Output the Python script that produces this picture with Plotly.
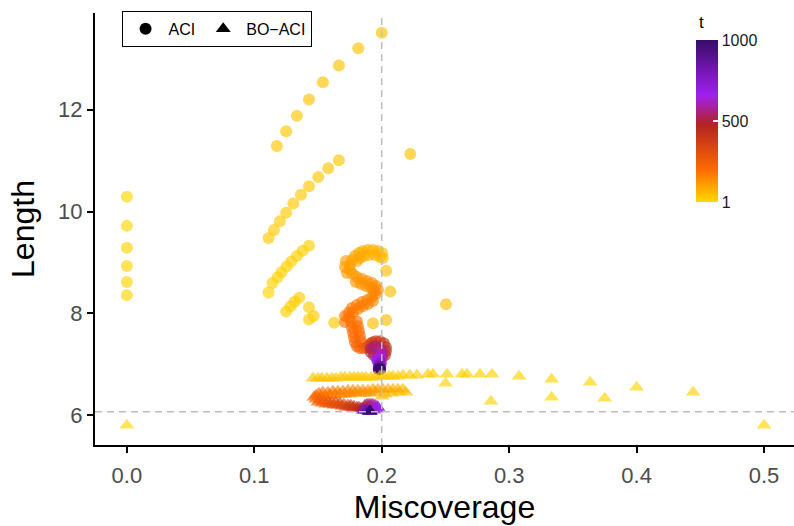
import plotly.graph_objects as go

# ---------------- data ----------------
# ACI: running miscoverage / running length, coloured by time step t
aci_miscov = [
    0.0, 0.0, 0.0, 0.0, 0.0, 0.0,
    0.1112, 0.1143, 0.1183, 0.1214, 0.1253, 0.1290, 0.1334, 0.1379, 0.1429,
    0.1250, 0.1285, 0.1316, 0.1353, 0.1429, 0.1466, 0.1429, 0.1627,
    0.1112, 0.1154, 0.1201, 0.1250, 0.1306, 0.1366, 0.1429, 0.1502, 0.1580, 0.1664,
    0.1177, 0.1250, 0.1334, 0.1429, 0.1538, 0.1664, 0.1816, 0.2000,
    0.2224, 0.2504, 0.2035, 0.2067, 0.2035, 0.1931,
    0.2009, 0.1986, 0.2002, 0.1970, 0.1947, 0.1931, 0.1900, 0.1892, 0.1860, 0.1852,
    0.1829, 0.1821, 0.1805, 0.1790, 0.1766, 0.1719, 0.1750, 0.1711, 0.1750, 0.1727,
    0.1774, 0.1805, 0.1797, 0.1845, 0.1837, 0.1884, 0.1876, 0.1923, 0.1915, 0.1954,
    0.1939, 0.1970, 0.1954, 0.1931, 0.1923, 0.1892, 0.1884, 0.1852, 0.1845, 0.1813,
    0.1805, 0.1774, 0.1766, 0.1711, 0.1743, 0.1711, 0.1743, 0.1805, 0.1758, 0.1813,
    0.1766, 0.1821, 0.1774, 0.1829, 0.1782, 0.1837, 0.1790, 0.1805, 0.1829, 0.1860,
    0.1884, 0.1900, 0.1915, 0.1931, 0.1954, 0.1986, 0.2017, 0.2033, 0.2033, 0.2025,
    0.2002, 0.1970, 0.1939, 0.1915, 0.1915, 0.1939, 0.1970, 0.1994, 0.2002, 0.1994,
    0.1978, 0.1962, 0.1970, 0.1986, 0.1994, 0.1986, 0.1978, 0.1978, 0.1986, 0.1978,
    0.1986, 0.1978, 0.1986, 0.1978, 0.1986,
]
aci_length = [
    10.29, 9.72, 9.29, 8.93, 8.62, 8.36,
    8.41, 8.60, 8.71, 8.81, 8.92, 9.02, 9.13, 9.23, 9.33,
    8.04, 8.14, 8.23, 8.31, 8.12, 7.95, 7.88, 7.82,
    9.48, 9.64, 9.81, 9.98, 10.16, 10.33, 10.50, 10.68, 10.85, 11.01,
    11.29, 11.58, 11.88, 12.20, 12.54, 12.87, 13.21, 13.51,
    11.13, 8.18, 8.84, 8.43, 7.87, 7.81,
    9.089, 9.108, 9.187, 9.226, 9.148, 9.246, 9.148, 9.246, 9.128, 9.226,
    9.089, 9.187, 9.030, 9.128, 9.049, 9.030, 8.951, 8.912, 8.853, 8.794,
    8.774, 8.715, 8.617, 8.676, 8.577, 8.636, 8.538, 8.597, 8.499, 8.538,
    8.440, 8.459, 8.380, 8.243, 8.321, 8.184, 8.262, 8.144, 8.223, 8.085,
    8.164, 8.026, 8.105, 7.948, 8.026, 7.830, 7.928, 7.849, 7.830, 7.751,
    7.731, 7.653, 7.633, 7.554, 7.535, 7.456, 7.436, 7.357, 7.318, 7.318,
    7.338, 7.377, 7.416, 7.436, 7.456, 7.456, 7.416, 7.338, 7.259, 7.180,
    7.141, 7.141, 7.180, 7.239, 7.318, 7.357, 7.338, 7.279, 7.220, 7.161,
    7.121, 7.102, 7.062, 7.043, 7.023, 7.003, 6.984, 6.964, 6.944, 6.925,
    6.925, 6.905, 6.905, 6.905, 6.905,
]
aci_t = [
    1, 2, 3, 4, 5, 6,
    7, 8, 9, 10, 11, 12, 13, 14, 15,
    16, 17, 18, 19, 20, 21, 22, 23,
    24, 25, 26, 27, 28, 29, 30, 31, 32, 33,
    34, 35, 36, 37, 38, 39, 40, 41,
    42, 43, 44, 45, 46, 47,
    50, 52, 55, 60, 63, 66, 69, 72, 75, 78,
    81, 84, 87, 90, 93, 99, 102, 105, 108, 111,
    114, 119, 121, 124, 126, 129, 131, 134, 136, 139,
    141, 144, 149, 151, 154, 156, 159, 161, 164, 166,
    169, 171, 174, 176, 179, 181, 184, 187, 190, 193,
    196, 199, 202, 205, 208, 211, 214, 222, 232, 245,
    270, 300, 330, 360, 380, 395, 410, 425, 440, 455,
    470, 485, 500, 515, 530, 545, 560, 580, 600, 620,
    640, 660, 680, 700, 720, 740, 760, 790, 820, 850,
    880, 910, 940, 970, 1000,
]

# BO-ACI
bo_miscov = [
    0.0, 0.5, 0.3333, 0.25, 0.4, 0.3333, 0.2857, 0.375, 0.4444, 0.3636, 0.3077,
    0.2865, 0.2771, 0.2669, 0.2630, 0.2512, 0.2402, 0.2363, 0.2276, 0.2221, 0.2166,
    0.2127, 0.2088, 0.2057, 0.2017, 0.1986, 0.1947, 0.1915, 0.1876, 0.1845, 0.1813,
    0.1782, 0.1750, 0.1711, 0.1680, 0.1641, 0.1609, 0.1570, 0.1531, 0.1499, 0.1460,
    0.2190, 0.2135, 0.2080, 0.2025, 0.2002,
    0.2166, 0.2127, 0.2088, 0.2049, 0.2009, 0.1970, 0.1947, 0.1931, 0.1907, 0.1892,
    0.1868, 0.1852, 0.1829, 0.1813, 0.1790, 0.1774, 0.1750, 0.1735, 0.1711, 0.1695,
    0.1672, 0.1656, 0.1633, 0.1617, 0.1593, 0.1578, 0.1554, 0.1538, 0.1523, 0.1507,
    0.1484, 0.1468,
    0.1484, 0.1499, 0.1515, 0.1531, 0.1546, 0.1562, 0.1578, 0.1593, 0.1609, 0.1625,
    0.1641, 0.1656, 0.1672, 0.1688, 0.1703, 0.1719, 0.1735, 0.1750, 0.1758, 0.1774,
    0.1782, 0.1805, 0.1821, 0.1837, 0.1852,
    0.1868, 0.1884, 0.1900, 0.1915, 0.1931, 0.1947, 0.1962, 0.1970, 0.1970, 0.1954,
    0.1939, 0.1915, 0.1892, 0.1868, 0.1852, 0.1868, 0.1884, 0.1900, 0.1907, 0.1907,
    0.1907, 0.1907, 0.1907,
]
bo_length = [
    5.803, 5.803, 6.354, 6.630, 6.551, 6.708, 6.275, 6.334, 6.452, 6.649, 6.767,
    6.807, 6.807, 6.807, 6.807, 6.807, 6.807, 6.807, 6.787, 6.787, 6.787,
    6.767, 6.767, 6.767, 6.767, 6.767, 6.748, 6.748, 6.748, 6.748, 6.748,
    6.748, 6.748, 6.748, 6.748, 6.728, 6.728, 6.728, 6.728, 6.728, 6.728,
    6.452, 6.452, 6.433, 6.413, 6.374,
    6.512, 6.512, 6.512, 6.512, 6.512, 6.512, 6.452, 6.512, 6.433, 6.492,
    6.433, 6.492, 6.433, 6.492, 6.433, 6.492, 6.413, 6.492, 6.413, 6.472,
    6.413, 6.472, 6.393, 6.472, 6.393, 6.452, 6.374, 6.452, 6.354, 6.433,
    6.393, 6.354,
    6.315, 6.256, 6.295, 6.236, 6.275, 6.216, 6.275, 6.216, 6.256, 6.197,
    6.256, 6.197, 6.236, 6.177, 6.216, 6.157, 6.197, 6.157, 6.197, 6.138,
    6.177, 6.157, 6.157, 6.138, 6.138,
    6.197, 6.216, 6.216, 6.216, 6.216, 6.197, 6.177, 6.157, 6.138, 6.118,
    6.098, 6.098, 6.098, 6.098, 6.098, 6.098, 6.098, 6.079, 6.079, 6.079,
    6.079, 6.079, 6.079,
]
bo_t = [
    1, 2, 3, 4, 5, 6, 7, 8, 9, 10, 11,
    12, 13, 14, 15, 16, 17, 18, 19, 20, 21,
    22, 23, 24, 25, 26, 27, 28, 29, 30, 31,
    32, 33, 34, 35, 36, 37, 38, 39, 40, 41,
    44, 46, 48, 50, 52,
    60, 68, 76, 84, 92, 100, 104, 108, 112, 116,
    120, 124, 128, 132, 136, 140, 144, 148, 152, 156,
    160, 164, 168, 172, 176, 180, 184, 188, 192, 196,
    204, 212,
    225, 232, 240, 248, 255, 262, 270, 278, 285, 292,
    300, 310, 320, 330, 340, 350, 360, 370, 380, 390,
    400, 420, 440, 460, 480,
    500, 520, 540, 560, 580, 600, 620, 640, 660, 680,
    700, 720, 740, 760, 780, 800, 830, 860, 890, 920,
    950, 980, 1000,
]

target_miscov = 0.2
target_length = 6.07
x_ticks = [0.0, 0.1, 0.2, 0.3, 0.4, 0.5]
y_ticks = [6, 8, 10, 12]
t_ticks = [1, 500, 1000]

# ---------------- figure ----------------
FONT = "Liberation Sans"
cscale = [
    [0.0, "#FFD700"],
    [0.2, "#FF6A00"],
    [0.48, "#B22222"],
    [0.66, "#A020F0"],
    [1.0, "#380C68"],
]

fig = go.Figure()

fig.add_trace(go.Scatter(
    x=aci_miscov, y=aci_length, mode="markers", showlegend=False,
    marker=dict(symbol="circle", size=12, color=aci_t, coloraxis="coloraxis",
                opacity=0.65, line=dict(width=0)),
))
fig.add_trace(go.Scatter(
    x=bo_miscov, y=bo_length, mode="markers", showlegend=False,
    marker=dict(symbol="triangle-up", size=13, color=bo_t, coloraxis="coloraxis",
                opacity=0.65, line=dict(width=0)),
))
# legend keys
fig.add_trace(go.Scatter(x=[None], y=[None], mode="markers", name="ACI",
                         marker=dict(symbol="circle", size=12, color="black")))
fig.add_trace(go.Scatter(x=[None], y=[None], mode="markers", name="BO\u2212ACI",
                         marker=dict(symbol="triangle-up", size=13, color="black")))

fig.add_shape(type="line", xref="x", yref="paper", x0=target_miscov, x1=target_miscov,
              y0=0, y1=1, layer="above",
              line=dict(color="#BEBEBE", width=1.5, dash="7px,5px"))
fig.add_shape(type="line", xref="paper", yref="y", x0=0, x1=1,
              y0=target_length, y1=target_length, layer="above",
              line=dict(color="#BEBEBE", width=1.5, dash="7px,5px"))

# colour-bar title placed like the ggplot legend title
fig.add_annotation(text="t", xref="paper", yref="paper", x=0.861, y=0.979,
                   xanchor="left", yanchor="middle", showarrow=False,
                   font=dict(size=17, color="black"))

fig.update_layout(
    width=794, height=526,
    margin=dict(l=95, r=0, t=13, b=81),
    paper_bgcolor="white", plot_bgcolor="white",
    font=dict(family=FONT, color="black"),
    coloraxis=dict(
        colorscale=cscale, cmin=1, cmax=1000,
        colorbar=dict(
            tickvals=t_ticks, ticktext=[str(v) for v in t_ticks],
            tickfont=dict(size=16, color="#1A1A1A"),
            thickness=22, len=162, lenmode="pixels",
            x=0.86, xanchor="left", y=0.75, yanchor="middle",
            xpad=0, ypad=0, outlinewidth=0,
            ticks="inside", ticklen=5, tickcolor="white", tickwidth=1.5,
        ),
    ),
    legend=dict(
        orientation="h", x=0.038, y=1.005, xanchor="left", yanchor="top",
        bordercolor="black", borderwidth=1, bgcolor="white",
        font=dict(size=16, color="black"), itemwidth=36,
    ),
    xaxis=dict(
        range=[-0.025, 0.5235], tickvals=x_ticks, tickformat=".1f",
        showgrid=False, zeroline=False,
        showline=True, linecolor="black", linewidth=2,
        ticks="outside", ticklen=6, tickwidth=2, tickcolor="black",
        tickfont=dict(size=22, color="#4D4D4D"), ticklabelstandoff=4,
        title=dict(text="Miscoverage", font=dict(size=32, color="black"), standoff=8),
    ),
    yaxis=dict(
        range=[5.417, 13.90], tickvals=y_ticks,
        showgrid=False, zeroline=False,
        showline=True, linecolor="black", linewidth=2,
        ticks="outside", ticklen=6, tickwidth=2, tickcolor="black",
        tickfont=dict(size=22, color="#4D4D4D"),
        title=dict(text="Length", font=dict(size=32, color="black"), standoff=14),
    ),
)

fig.write_html("out.html")
